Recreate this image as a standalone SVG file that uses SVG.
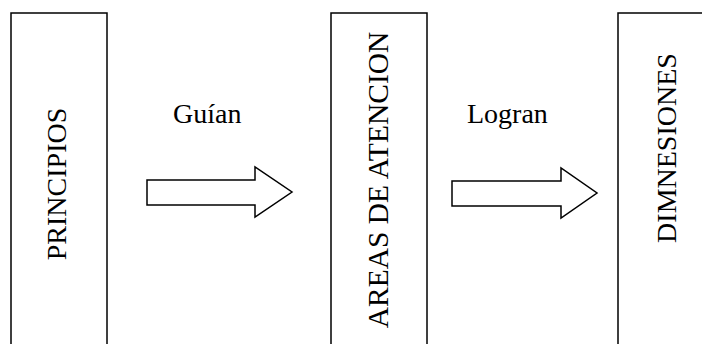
<svg xmlns="http://www.w3.org/2000/svg" width="702" height="344" viewBox="0 0 702 344">
<style>
.box{fill:#fff;stroke:#000;stroke-width:1.5}
.arr{fill:#fff;stroke:#000;stroke-width:1.5;stroke-linejoin:miter}
.t{font-family:"Liberation Serif","Times New Roman",serif;font-size:28px;fill:#000}
</style>
<rect width="702" height="344" fill="#fff"/>
<g id="principios">
<rect class="box" x="11" y="13" width="96" height="340"/>
<text class="t" text-anchor="middle" transform="translate(66,184) rotate(-90)">PRINCIPIOS</text>
</g>
<g id="areas">
<rect class="box" x="331" y="13" width="96" height="340"/>
<text class="t" text-anchor="middle" style="font-size:29.5px" transform="translate(388,180) rotate(-90)">AREAS DE ATENCION</text>
</g>
<g id="dimensiones">
<rect class="box" x="618" y="13" width="100" height="340"/>
<text class="t" text-anchor="middle" transform="translate(676,148) rotate(-90)">DIMNESIONES</text>
</g>
<g id="connectors">
<path class="arr" d="M147,180 H255 V167 L292,192 L255,217 V205 H147 Z"/>
<text class="t" x="173" y="123">Guían</text>
<path class="arr" d="M452,181 H561 V168 L597,193 L561,218 V206 H452 Z"/>
<text class="t" x="467" y="123">Logran</text>
</g>
</svg>
